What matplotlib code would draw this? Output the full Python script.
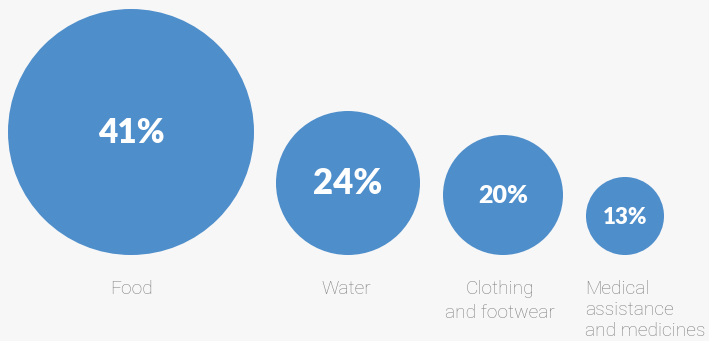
import matplotlib.pyplot as plt
from matplotlib.patches import Circle

categories = ['Food', 'Water', 'Clothing\nand footwear', 'Medical\nassistance\nand medicines']
shares = [41, 24, 20, 13]

# layout in pixels
centers_x = [131, 348, 503, 625]
base_y = 255
px_per_pct = 3.0
pct_sizes = [24, 25, 18, 16]

blue = '#4e8ecb'
bg = '#f7f7f7'
grey = '#7c7c7c'

fig = plt.figure(figsize=(7.09, 3.41), dpi=100, facecolor=bg)
ax = fig.add_axes([0, 0, 1, 1])
ax.set_facecolor(bg)
ax.set_xlim(0, 709)
ax.set_ylim(341, 0)
ax.set_aspect('equal')
ax.axis('off')

for cx, val, fs in zip(centers_x, shares, pct_sizes):
    r = val * px_per_pct
    cy = base_y - r
    ax.add_patch(Circle((cx, cy), r, color=blue, lw=0))
    ax.text(cx, cy + 1, f'{val}%', ha='center', va='center', color='white',
            fontsize=fs, fontweight='heavy', family='Lato')

# category labels under the circles
lab = dict(color=grey, fontsize=13.8, family='Roboto', fontweight='light', va='top')
ax.text(centers_x[0], 280, categories[0], ha='center', **lab)
ax.text(centers_x[1] - 2, 280, categories[1], ha='center', **lab)
ax.text(centers_x[2] - 3, 280, categories[2], ha='center',
        multialignment='center', linespacing=1.42, **lab)
ax.text(585, 280, categories[3], ha='left', linespacing=1.2, **lab)

fig.savefig('out.png', dpi=100, facecolor=bg)
